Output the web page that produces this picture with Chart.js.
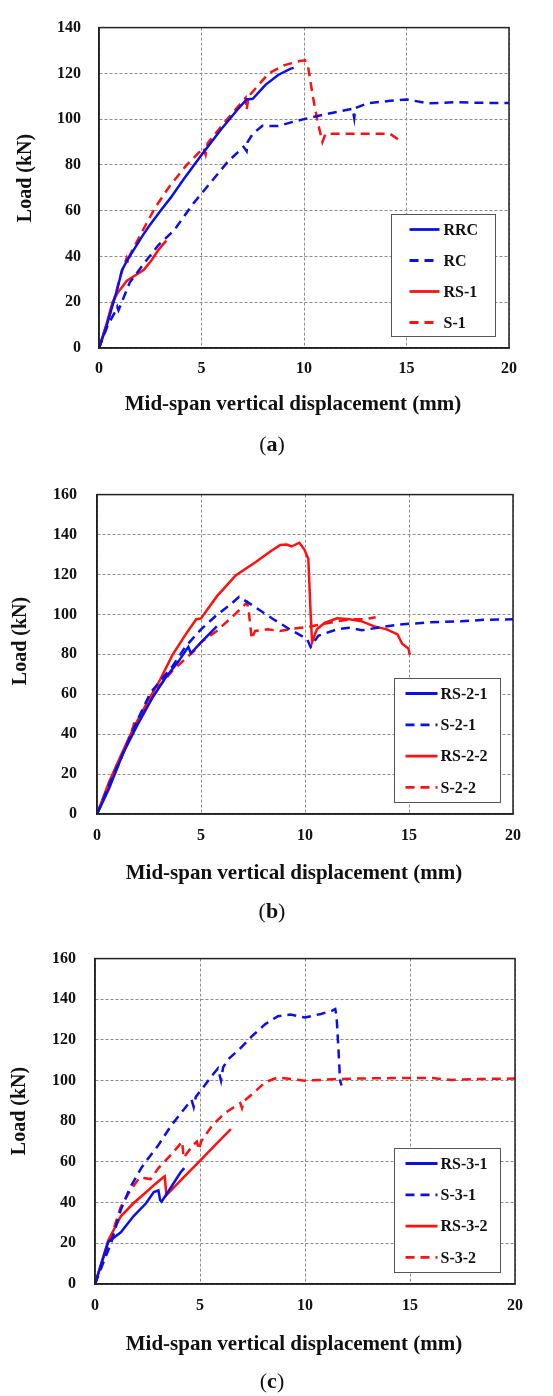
<!DOCTYPE html>
<html><head><meta charset="utf-8">
<script src="https://cdn.jsdelivr.net/npm/chart.js@4.4.0/dist/chart.umd.min.js"></script>
<style>
html,body{margin:0;padding:0;background:#fff;}
#wrap{position:relative;width:553px;height:1396px;overflow:hidden;}
canvas{position:absolute;left:0;display:block;}
</style></head><body>
<div id="wrap">
<canvas id="ca" width="553" height="465" style="top:0px"></canvas>
<canvas id="cb" width="553" height="465" style="top:465px"></canvas>
<canvas id="cc" width="553" height="466" style="top:930px"></canvas>
</div>
<script>
// ---------- data (x: mid-span displacement mm, y: load kN) ----------
const xTicks = [0, 5, 10, 15, 20];
const yTicksA = [0, 20, 40, 60, 80, 100, 120, 140];
const yTicksBC = [0, 20, 40, 60, 80, 100, 120, 140, 160];

// panel (a)
const RRC = [[0,0],[0.35,9],[0.66,18.6],[0.9,26],[1.12,34],[1.42,39],[1.7,43],[2.12,49],[2.5,54],[3.0,60],[3.5,65.7],[4.12,73.6],[5,84.3],[5.97,95.7],[6.74,104],[7.2,108.6],[7.5,108.9],[8.12,115],[8.74,119.3],[9.35,122.1],[9.5,122.4]];
const RC = [[0,0],[0.43,10],[0.8,16],[0.89,18],[0.95,16.5],[1.5,28.6],[2.2,37],[2.9,45],[3.66,51.4],[4.58,62.9],[5.5,72.9],[6.28,81.4],[7.05,87.9],[7.2,86],[7.25,90],[7.5,93.6],[7.97,97.1],[8.74,97],[9.5,98.9],[10,100],[10.98,102],[12.37,104.5],[12.45,100.5],[12.5,104.8],[13.1,106.9],[14.2,108],[15,108.6],[16.1,106.9],[17.3,107.4],[18.9,107.1],[20,107]];
const RS1 = [[0,0],[0.35,10],[0.66,20],[0.9,24],[1.35,29.3],[1.58,30.7],[1.97,32.9],[2.2,34.3],[2.58,38.6],[2.9,42.9],[3.28,46.9]];
const S1 = [[0,0],[0.4,11],[0.7,20],[1.1,33],[1.35,39.3],[1.42,37],[1.5,40.5],[1.97,48.6],[2.74,61.4],[3.5,71.4],[4.28,80],[5.1,87.5],[5.2,84.5],[5.3,89.5],[6.12,98.6],[7.15,109.3],[7.2,104],[7.3,110],[8.28,120],[9.05,123.6],[9.8,125.4],[10.05,125.7],[10.2,122.9],[10.43,110],[10.67,98.6],[10.9,90],[11.05,93.6],[12.37,93.6],[14.2,93.6],[14.77,90]];

// panel (b)
const RS21 = [[0,0],[0.58,12.8],[1.25,30.3],[1.95,44.7],[2.71,59],[3.32,68.6],[3.93,76.6],[4.39,83.7],[4.51,80.5],[5,86],[5.76,94]];
const S21 = [[0,0],[0.6,15],[1.2,29],[1.9,46],[2.56,60.6],[3.63,74],[4.24,83.7],[5,92.5],[5.76,99.7],[6.37,104.5],[6.83,108.8],[7.6,103.7],[8.5,97.4],[9.27,92.5],[10.1,87.7],[10.27,83.7],[10.64,89.3],[11.54,92.5],[12.13,93.3],[12.73,92],[13.48,93.3],[14.52,94.9],[16,96],[17.5,96.5],[18.6,97.3],[20,97.5]];
const RS22 = [[0,0],[0.58,16],[1.19,30.3],[1.8,43.9],[2.41,55.8],[3.02,67],[3.63,79.7],[4.24,89.6],[4.77,97.6],[5,98],[5.76,109],[6.68,119.6],[7.6,126],[8.35,131.6],[8.81,134.8],[9.12,135],[9.35,134],[9.73,135.9],[9.97,132.5],[10.16,127.7],[10.27,100.5],[10.34,86],[10.57,92.5],[10.94,95.7],[11.54,98],[12.13,97.6],[12.73,96.5],[13.33,94],[13.93,92.5],[14.45,90],[14.67,85.3],[14.97,82.9],[15.04,79.7]];
const S22 = [[0,0],[0.6,14.5],[1.2,29],[1.75,44],[1.8,46.3],[1.85,43.5],[2.71,60.6],[3.63,71.8],[4.7,82],[5,86],[5.76,91.7],[6.68,100.5],[7.21,106],[7.29,102],[7.44,87.7],[7.6,91.7],[8.2,92.5],[8.8,91.7],[9.42,92.8],[10.18,93.8],[11.54,96.5],[12.28,97.6],[12.88,97.6],[13.4,98.6]];

// panel (c)
const RS31 = [[0,0],[0.63,20.6],[1.23,25.4],[1.83,33.3],[2.43,39.7],[2.8,45.2],[3.02,46],[3.1,41.3],[3.17,40.5],[3.62,47.6],[4.07,54.8],[4.25,57]];
const S31 = [[0,0],[0.78,20.6],[1.23,36.5],[1.68,47.6],[2.2,57],[2.43,60.3],[3.02,68.3],[3.62,77.8],[4.22,85.7],[4.6,90.5],[4.7,87],[4.8,92],[5.04,95.2],[5.57,102.4],[5.85,106],[6.0,100],[6.1,106.5],[6.32,110.3],[6.92,115.9],[7.51,122.2],[8.11,127.8],[8.71,131.7],[9.31,132.5],[10,131],[10.76,132.8],[11.29,134.4],[11.44,135.2],[11.5,132],[11.59,116],[11.67,100],[11.74,97.6]];
const RS32 = [[0,0],[0.63,21.4],[1.23,33.3],[1.83,39.7],[2.35,44.4],[2.87,49.2],[3.24,52.4],[3.32,53],[3.4,43.7],[3.62,46],[4.22,52.4],[4.97,60.3],[5.72,68.3],[6.47,76.2]];
const S32 = [[0,0],[0.7,21],[1.23,38],[1.68,46],[2.13,52.4],[2.65,51.6],[3.02,57],[3.62,63.5],[4.07,69],[4.15,70],[4.22,62],[4.67,68.3],[4.85,70],[4.95,66],[5.05,70],[5.57,77.8],[6.17,84],[6.92,88.9],[7.0,86.5],[7.1,90],[7.51,93.6],[8.11,99.2],[8.71,101.6],[9.31,100.8],[10,100],[10.76,100.3],[11.5,100.8],[13,101.1],[15,101.3],[16.06,101.3],[16.97,100.3],[18.2,100.8],[20,101]];

const labelsA = ['RRC', 'RC', 'RS-1', 'S-1'];
const labelsB = ['RS-2-1', 'S-2-1', 'RS-2-2', 'S-2-2'];
const labelsC = ['RS-3-1', 'S-3-1', 'RS-3-2', 'S-3-2'];
const xTitle = 'Mid-span vertical displacement (mm)';
const yTitle = 'Load (kN)';

// ---------- styling ----------
const BLUE = '#0a10e8', RED = '#ff1010';
const DASH = [9, 6];
const SERIF = '"Liberation Serif", "Times New Roman", serif';

function ds(label, pts, color, dashed) {
  return {
    label, data: pts.map(p => ({x: p[0], y: p[1]})),
    borderColor: color, backgroundColor: color, borderWidth: 2.5,
    borderDash: dashed ? DASH : [], pointRadius: 0, showLine: true, tension: 0, fill: false
  };
}

const decor = {
  id: 'decor',
  afterDraw(chart, args, o) {
    const {ctx, chartArea: a} = chart;
    ctx.save();
    // frame
    ctx.setLineDash([]);
    ctx.strokeStyle = '#222'; ctx.lineWidth = 1.5;
    ctx.strokeRect(a.left, a.top, a.right - a.left, a.bottom - a.top);
    // legend
    const L = o.legend;
    const bx = Math.round(a.right - L.right - L.w) + 0.5, by = Math.round(a.bottom - L.bottom - L.h) + 0.5;
    ctx.fillStyle = '#fff'; ctx.fillRect(bx, by, L.w, L.h);
    ctx.strokeStyle = '#555'; ctx.lineWidth = 1; ctx.strokeRect(bx, by, L.w, L.h);
    chart.data.datasets.forEach((d, i) => {
      const y = by + L.first + i * L.step;
      ctx.strokeStyle = d.borderColor; ctx.lineWidth = 2.8; ctx.setLineDash(d.borderDash);
      ctx.beginPath(); ctx.moveTo(bx + L.x1, y); ctx.lineTo(bx + L.x2, y); ctx.stroke();
      ctx.setLineDash([]);
      ctx.fillStyle = '#111'; ctx.font = 'bold 16px ' + SERIF;
      ctx.textAlign = 'left'; ctx.textBaseline = 'middle';
      ctx.fillText(d.label, bx + L.tx, y + 1);
    });
    // axis titles
    ctx.fillStyle = '#111'; ctx.textAlign = 'center'; ctx.textBaseline = 'middle';
    ctx.font = 'bold 21px ' + SERIF;
    ctx.fillText(xTitle, o.xt[0], o.xt[1]);
    ctx.save();
    ctx.translate(o.yt[0], o.yt[1]); ctx.rotate(-Math.PI / 2);
    ctx.font = 'bold 20px ' + SERIF;
    ctx.fillText(yTitle, 0, 0);
    ctx.restore();
    // caption (letter bold)
    const fN = '22px ' + SERIF, fB = 'bold 22px ' + SERIF;
    ctx.font = fN; const wp = ctx.measureText('(').width, wq = ctx.measureText(')').width;
    ctx.font = fB; const wl = ctx.measureText(o.cap).width;
    let cx = o.cp[0] - (wp + wl + wq) / 2;
    ctx.textAlign = 'left';
    ctx.font = fN; ctx.fillText('(', cx, o.cp[1]); cx += wp;
    ctx.font = fB; ctx.fillText(o.cap, cx, o.cp[1]); cx += wl;
    ctx.font = fN; ctx.fillText(')', cx, o.cp[1]);
    ctx.restore();
  }
};

function make(id, sets, cfg) {
  new Chart(document.getElementById(id), {
    type: 'scatter',
    data: {datasets: sets},
    plugins: [decor],
    options: {
      responsive: false, animation: false, events: [],
      layout: {padding: {top: cfg.padTop, right: cfg.padRight, left: 0, bottom: 0}},
      plugins: {legend: {display: false}, tooltip: {enabled: false},
        decor: {legend: cfg.legend, xt: cfg.xt, yt: cfg.yt, cp: cfg.cp, cap: cfg.cap}},
      scales: {
        x: {
          type: 'linear', min: 0, max: 20,
          afterFit(s) { s.height = cfg.xH; },
          afterBuildTicks(s) { s.ticks = xTicks.map(v => ({value: v})); },
          ticks: {font: {family: SERIF, size: 16, weight: 'bold'}, color: '#111', padding: cfg.xPad, maxRotation: 0, autoSkip: false},
          grid: {color: '#8c8c8c', lineWidth: 1, drawTicks: false},
          border: {display: true, color: '#222', width: 1.5, dash: [3, 2]}
        },
        y: {
          type: 'linear', min: 0, max: cfg.yMax,
          afterFit(s) { s.width = cfg.yW; },
          afterBuildTicks(s) { s.ticks = cfg.yTicks.map(v => ({value: v})); },
          ticks: {font: {family: SERIF, size: 16, weight: 'bold'}, color: '#111', padding: cfg.yPad, autoSkip: false},
          grid: {color: '#8c8c8c', lineWidth: 1, drawTicks: false},
          border: {display: true, color: '#222', width: 1.5, dash: [3, 2]}
        }
      }
    }
  });
}

make('ca', [ds(labelsA[0], RRC, BLUE, false), ds(labelsA[1], RC, BLUE, true), ds(labelsA[2], RS1, RED, false), ds(labelsA[3], S1, RED, true)], {
  padTop: 19.5, padRight: 44, xH: 117, yW: 99, yMax: 140, yTicks: yTicksA, yPad: 18, xPad: 11,
  legend: {w: 104, h: 122, right: 14, bottom: 12, first: 15, step: 31, x1: 18, x2: 48, tx: 52},
  xt: [293, 405], yt: [26, 178], cp: [272, 445], cap: 'a'
});
make('cb', [ds(labelsB[0], RS21, BLUE, false), ds(labelsB[1], S21, BLUE, true), ds(labelsB[2], RS22, RED, false), ds(labelsB[3], S22, RED, true)], {
  padTop: 14, padRight: 40, xH: 116, yW: 97, yMax: 160, yTicks: yTicksBC, yPad: 20, xPad: 12,
  legend: {w: 106, h: 124, right: 13, bottom: 12, first: 15, step: 31.3, x1: 11, x2: 43, tx: 46},
  xt: [294, 409], yt: [21, 176], cp: [272, 447], cap: 'b'
});
make('cc', [ds(labelsC[0], RS31, BLUE, false), ds(labelsC[1], S31, BLUE, true), ds(labelsC[2], RS32, RED, false), ds(labelsC[3], S32, RED, true)], {
  padTop: 17, padRight: 38, xH: 112, yW: 95, yMax: 160, yTicks: yTicksBC, yPad: 19, xPad: 12,
  legend: {w: 106, h: 124, right: 15, bottom: 12, first: 15, step: 31.3, x1: 11, x2: 43, tx: 46},
  xt: [294, 415], yt: [20, 181], cp: [272, 452], cap: 'c'
});
</script>
</body></html>
